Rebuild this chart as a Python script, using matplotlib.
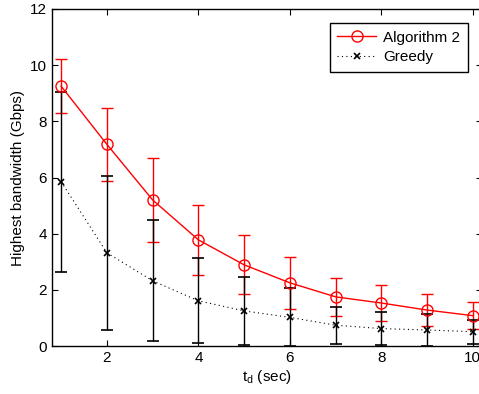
import matplotlib
matplotlib.use('Agg')
import matplotlib.pyplot as plt
from matplotlib.lines import Line2D

plt.rcParams['font.family'] = ['Liberation Sans', 'DejaVu Sans']
plt.rcParams['mathtext.fontset'] = 'custom'
plt.rcParams['mathtext.rm'] = 'Liberation Sans'

td = [1, 2, 3, 4, 5, 6, 7, 8, 9, 10]
alg2_mean = [9.25, 7.18, 5.2, 3.78, 2.89, 2.25, 1.75, 1.53, 1.28, 1.08]
alg2_err = [0.97, 1.3, 1.5, 1.25, 1.05, 0.92, 0.68, 0.64, 0.58, 0.47]
greedy_mean = [5.85, 3.32, 2.32, 1.61, 1.25, 1.02, 0.74, 0.62, 0.57, 0.51]
greedy_err = [3.2, 2.75, 2.15, 1.52, 1.2, 1.03, 0.66, 0.58, 0.58, 0.43]

fig = plt.figure(figsize=(4.79, 3.94), dpi=100)
ax = fig.add_axes([52 / 479, 48 / 394, 430 / 479, 337 / 394])

ax.errorbar(td, alg2_mean, yerr=alg2_err, color='red', marker='o',
            markersize=8, markerfacecolor='none', markeredgewidth=1,
            linewidth=1, elinewidth=1, capsize=4, capthick=1)
ax.errorbar(td, greedy_mean, yerr=greedy_err, color='black', marker='x',
            markersize=5, markeredgewidth=1.2, linestyle=(0, (1, 3)),
            linewidth=0.8, elinewidth=1, capsize=4, capthick=1)

ax.set_xlim(0.8, 10.2)
ax.set_ylim(0, 12)
ax.set_xticks([2, 4, 6, 8, 10])
ax.set_yticks([0, 2, 4, 6, 8, 10, 12])
ax.tick_params(direction='in', top=True, right=True, labelsize=11, length=4)
for s in ax.spines.values():
    s.set_linewidth(1)

ax.set_xlabel(r'$\mathregular{t_d}$ (sec)', fontsize=11, labelpad=2)
ax.set_ylabel('Highest bandwidth (Gbps)', fontsize=11, labelpad=4)

handles = [
    Line2D([], [], color='red', marker='o', markersize=8,
           markerfacecolor='none', linewidth=1),
    Line2D([], [], color='black', marker='x', markersize=5,
           markeredgewidth=1.2, linestyle=(0, (1, 3)), linewidth=0.8),
]
leg = ax.legend(handles, ['Algorithm 2', 'Greedy'], loc='upper right',
                bbox_to_anchor=(0.978, 0.972),
                fontsize=11, fancybox=False, edgecolor='black', framealpha=1,
                handlelength=2.5, borderaxespad=0.3, borderpad=0.5,
                labelspacing=0.35, handletextpad=0.5)
leg.get_frame().set_linewidth(1)

fig.savefig('out.png', dpi=100)
